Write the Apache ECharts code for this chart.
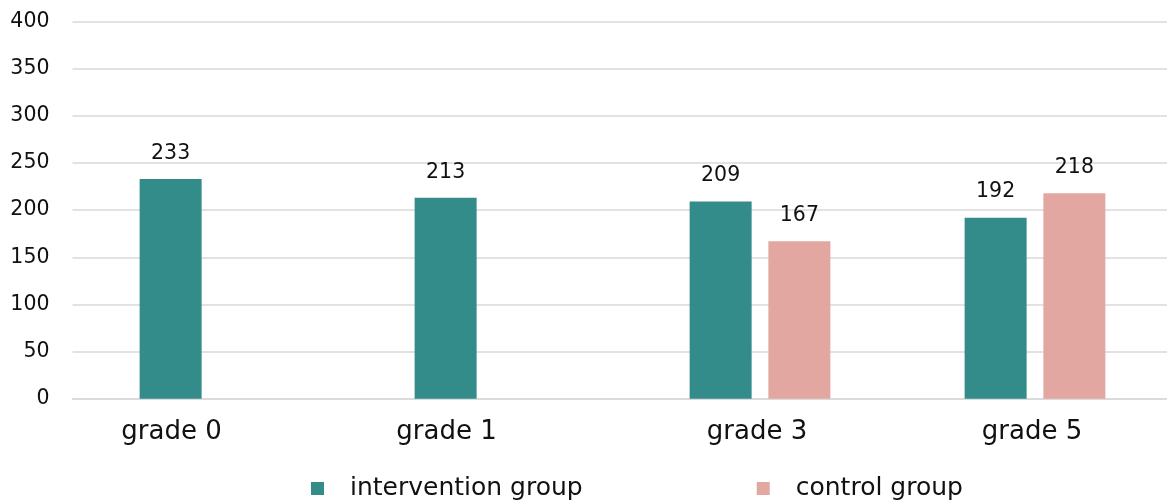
<!DOCTYPE html>
<html>
<head>
<meta charset="utf-8">
<script src="https://cdn.jsdelivr.net/npm/echarts@6/dist/echarts.min.js"></script>
<style>
html,body{margin:0;padding:0;background:#fff;}
#c{width:1167px;height:501px;}
</style>
</head>
<body>
<div id="c"></div>
<script>
var categories = ['grade 0', 'grade 1', 'grade 3', 'grade 5'];
var interventionValues = [233, 213, 209, 192];
var controlValues = [null, null, 167, 218];
var yTicks = { min: 0, max: 400, interval: 50 };
var seriesNames = ['intervention group', 'control group'];
var colors = ['#338C8A', '#E2A7A1'];

var FONT = 'DejaVu Sans';
var chart = echarts.init(document.getElementById('c'), null, { renderer: 'canvas' });

function barSeries(name, data, color) {
  return {
    name: name,
    type: 'bar',
    data: data,
    barWidth: 62,
    barGap: '27%',
    itemStyle: { color: color },
    label: {
      show: true,
      position: 'top',
      distance: 15,
      color: '#111',
      fontFamily: FONT,
      fontSize: 20.5
    }
  };
}

chart.setOption({
  animation: false,
  color: colors,
  grid: { left: 72.5, right: -5.5, top: 21.5, bottom: 102.3, containLabel: false, outerBoundsMode: 'none' },
  legend: {
    left: 311,
    top: 476,
    padding: 0,
    itemWidth: 13,
    itemHeight: 13,
    itemGap: 174,
    icon: 'rect',
    data: seriesNames,
    textStyle: { fontFamily: FONT, fontSize: 25, color: '#111', padding: [0, 0, 0, 21] }
  },
  xAxis: {
    type: 'category',
    data: categories,
    axisLine: { show: true, lineStyle: { color: '#D9D9D9', width: 1.5 } },
    axisTick: { show: false },
    axisLabel: {
      margin: 21,
      color: '#111',
      fontFamily: FONT,
      fontSize: 26,
      interval: 0,
      formatter: function (v, i) {
        return controlValues[i] == null ? '{s|' + v + '}' : '{n|' + v + '}';
      },
      rich: {
        s: { fontFamily: FONT, fontSize: 26, color: '#111', padding: [0, 77, 0, 0] },
        n: { fontFamily: FONT, fontSize: 26, color: '#111', padding: [0, 6, 0, 0] }
      }
    }
  },
  yAxis: {
    type: 'value',
    min: yTicks.min,
    max: yTicks.max,
    interval: yTicks.interval,
    axisLine: { show: false },
    axisTick: { show: false },
    splitLine: { lineStyle: { color: '#D9D9D9', width: 1.5 } },
    axisLabel: { margin: 23, color: '#111', fontFamily: FONT, fontSize: 20.5 }
  },
  series: [
    barSeries(seriesNames[0], interventionValues, colors[0]),
    barSeries(seriesNames[1], controlValues, colors[1])
  ]
});
</script>
</body>
</html>
